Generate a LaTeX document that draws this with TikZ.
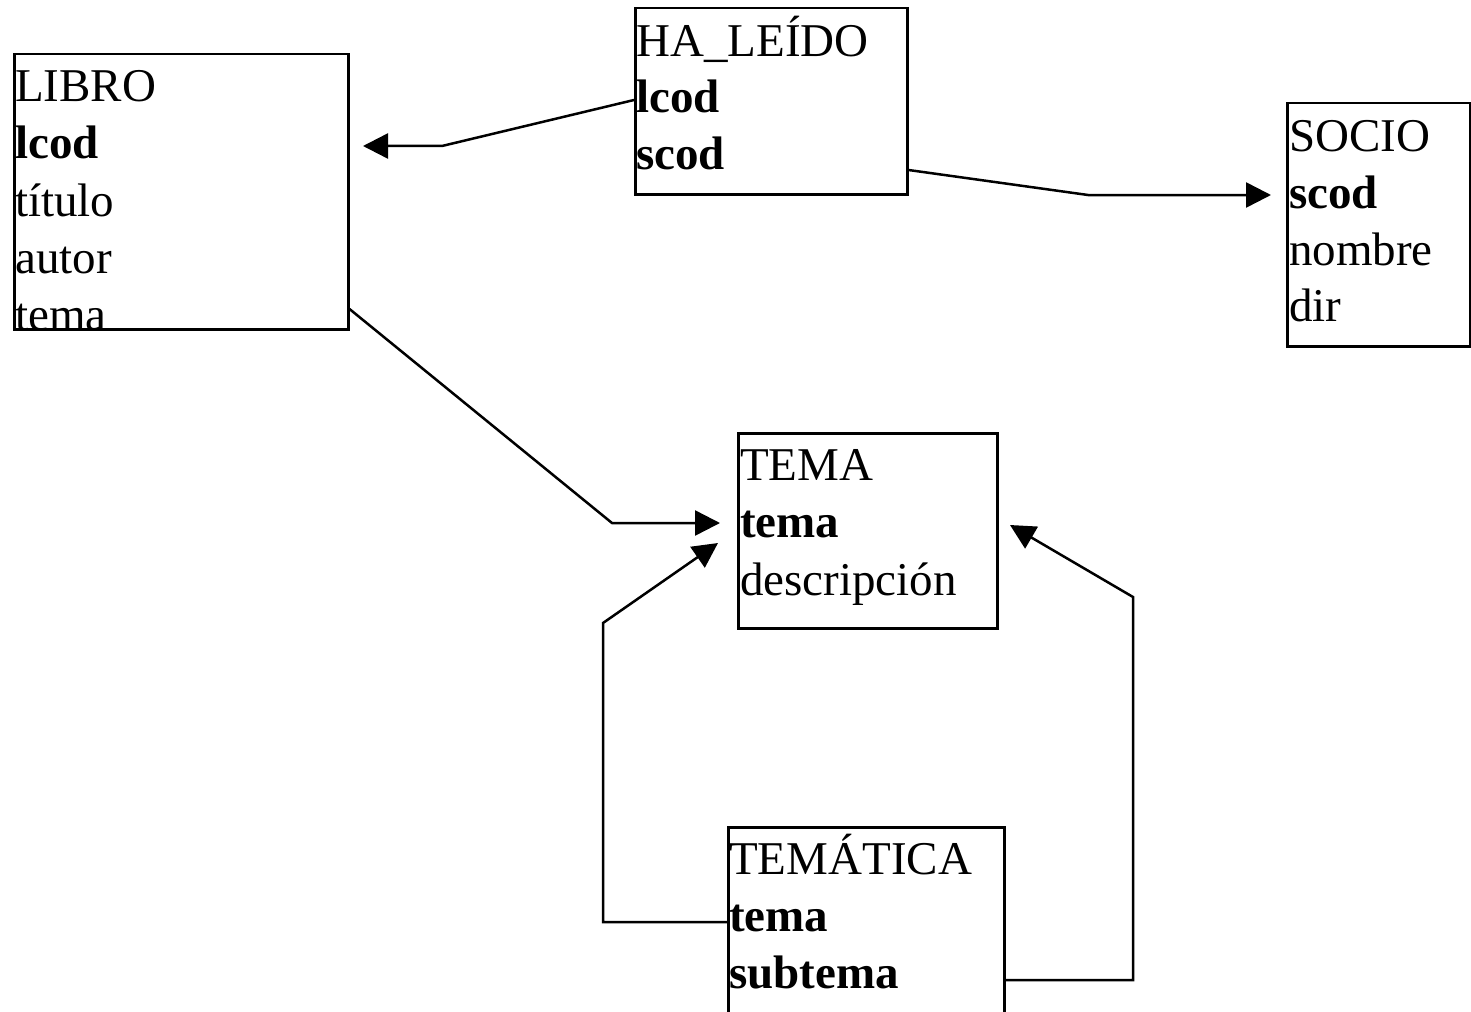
\documentclass[tikz,border=0pt]{standalone}
\usepackage{fontspec}
\setmainfont{Liberation Serif}
\usetikzlibrary{arrows.meta}
\begin{document}
\begin{tikzpicture}[x=1pt,y=-1pt,
  box/.style={draw, line width=2.5pt, inner sep=0pt, anchor=north west},
  txt/.style={anchor=base west, inner sep=0pt, font=\fontsize{47}{56}\selectfont},
  btxt/.style={anchor=base west, inner sep=0pt, font=\fontsize{47}{56}\selectfont\bfseries},
  conn/.style={line width=2.5pt, -{Triangle[length=25pt,width=25pt]}}]
\useasboundingbox (0,0) rectangle (1471,1011);
\clip (0,0) rectangle (1471,1011);
\fill[white] (0,0) rectangle (1471,1011);

% boxes
\node[box, minimum width=334pt, minimum height=275pt] (libro) at (13,53) {};
\node[box, minimum width=272pt, minimum height=186pt] (haleido) at (634,7) {};
\node[box, minimum width=183pt, minimum height=243pt] (socio) at (1286,102) {};
\node[box, minimum width=259pt, minimum height=195pt] (tema) at (737,432) {};
\node[box, minimum width=276pt, minimum height=220pt] (tematica) at (727,826) {};

% texts
\node[txt]  (l1) at (15,102) {LIBRO};
\node[btxt] (l2) at (15,159) {lcod};
\node[txt]  (l3) at (15,216) {título};
\node[txt]  (l4) at (15,273) {autor};
\node[txt]  (l5) at (15,330) {tema};

\node[txt]  (h1) at (636,57) {HA\_LEÍDO};
\node[btxt] (h2) at (636,113) {lcod};
\node[btxt] (h3) at (636,170) {scod};

\node[txt]  (s1) at (1289,152) {SOCIO};
\node[btxt] (s2) at (1289,208) {scod};
\node[txt]  (s3) at (1289,265) {nombre};
\node[txt]  (s4) at (1289,321) {dir};

\node[txt]  (t1) at (740,480) {TEMA};
\node[btxt] (t2) at (740,537) {tema};
\node[txt]  (t3) at (740,595) {descripción};

\node[txt]  (m1) at (729,874) {TEMÁTICA};
\node[btxt] (m2) at (729,931) {tema};
\node[btxt] (m3) at (729,988) {subtema};

% connector ends
\coordinate (e1) at (363,146);
\coordinate (e2) at (1271,195);
\coordinate (e3) at (720,523);
\coordinate (e4) at (718,543);
\coordinate (e5) at (1010,525);

% connectors
\draw[conn] (haleido.west |- {(0,100)}) -- (442,146) -- (e1);
\draw[conn] (haleido.east |- {(0,170)}) -- (1088,195) -- (e2);
\draw[conn] (libro.east |- {(0,309)}) -- (612,523) -- (e3);
\draw[conn] (tematica.west |- {(0,922)}) -- (603,922) -- (603,623) -- (e4);
\draw[conn] (tematica.east |- {(0,980)}) -- (1133,980) -- (1133,597) -- (e5);
\end{tikzpicture}
\end{document}
